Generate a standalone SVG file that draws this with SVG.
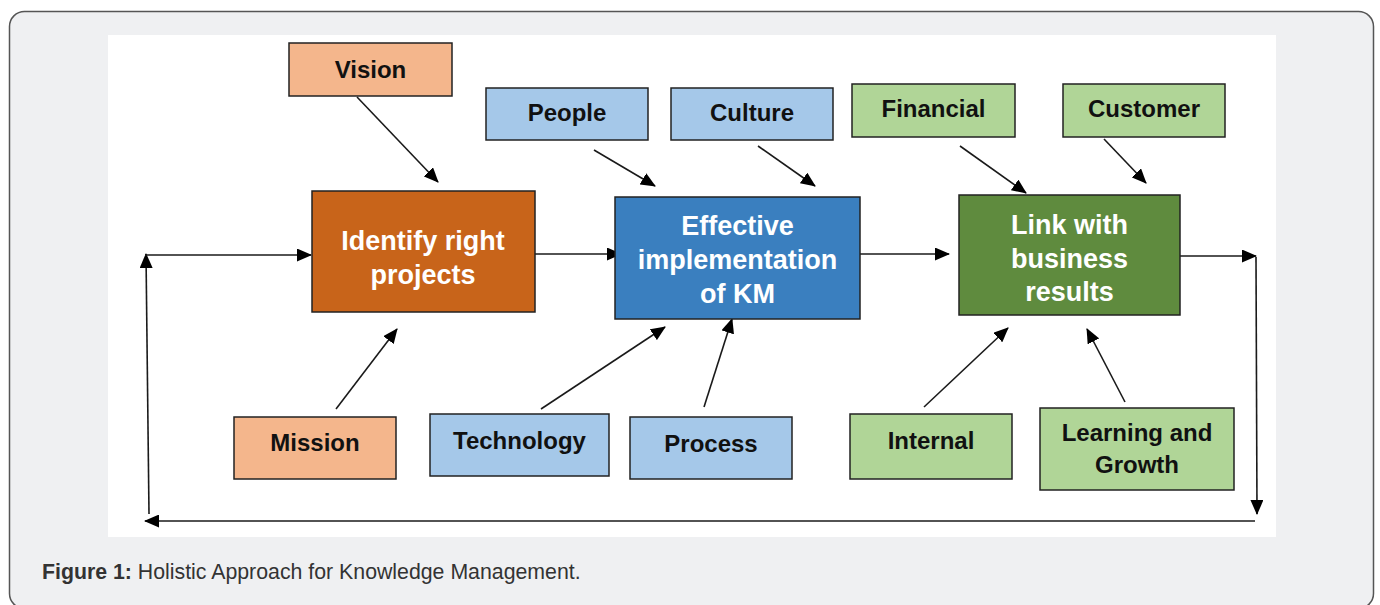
<svg xmlns="http://www.w3.org/2000/svg" width="1380" height="605" viewBox="0 0 1380 605">
  <style>
    .box { stroke: #222; stroke-width: 1.5; }
    .orange-l { fill: #f4b68c; }
    .orange-d { fill: #c8641a; }
    .blue-l { fill: #a5c8e9; }
    .blue-d { fill: #3a7fbf; }
    .green-l { fill: #b0d597; }
    .green-d { fill: #5f8b3e; }
    .lbl { font-family: "Liberation Sans", Arial, sans-serif; font-weight: bold; font-size: 24px; fill: #111; text-anchor: middle; }
    .main { font-family: "Liberation Sans", Arial, sans-serif; font-weight: bold; font-size: 27px; fill: #fff; text-anchor: middle; }
    .conn line { stroke: #1a1a1a; stroke-width: 1.6; fill: none; }
    .cap { font-family: "Liberation Sans", Arial, sans-serif; font-size: 21.3px; fill: #333; }
  </style>
  <defs>
    <marker id="head" markerUnits="userSpaceOnUse" markerWidth="15" markerHeight="13" refX="14" refY="6.5" orient="auto">
      <path d="M0,0 L15,6.5 L0,13 Z" fill="#000"/>
    </marker>
  </defs>

  <!-- figure card -->
  <rect x="9.5" y="11.5" width="1364" height="597" rx="15" ry="15" fill="#eff0f2" stroke="#555" stroke-width="1.5"/>
  <rect x="108" y="35" width="1168" height="502" fill="#fff"/>

  <!-- connectors -->
  <g id="connectors" class="conn">
    <line x1="357" y1="97" x2="438" y2="182" marker-end="url(#head)"/>
    <line x1="594" y1="150" x2="655" y2="186" marker-end="url(#head)"/>
    <line x1="758" y1="146" x2="815" y2="186" marker-end="url(#head)"/>
    <line x1="960" y1="146" x2="1026" y2="193" marker-end="url(#head)"/>
    <line x1="1104" y1="139" x2="1146" y2="183" marker-end="url(#head)"/>
    <line x1="336" y1="409" x2="397" y2="329" marker-end="url(#head)"/>
    <line x1="541" y1="409" x2="665" y2="327" marker-end="url(#head)"/>
    <line x1="704" y1="407" x2="732" y2="319" marker-end="url(#head)"/>
    <line x1="924" y1="407" x2="1008" y2="328" marker-end="url(#head)"/>
    <line x1="1125" y1="402" x2="1087" y2="329" marker-end="url(#head)"/>
    <line x1="535" y1="254" x2="621" y2="254" marker-end="url(#head)"/>
    <line x1="860" y1="254" x2="949" y2="254" marker-end="url(#head)"/>
    <line x1="1180" y1="256" x2="1256" y2="256" marker-end="url(#head)"/>
    <line x1="1256" y1="257" x2="1257" y2="514" marker-end="url(#head)"/>
    <line x1="1255" y1="521" x2="145" y2="521" marker-end="url(#head)"/>
    <line x1="149" y1="514" x2="146" y2="254" marker-end="url(#head)"/>
    <line x1="145" y1="255" x2="311" y2="255" marker-end="url(#head)"/>
  </g>

  <g id="vision">
    <rect class="box orange-l" x="289" y="43" width="163" height="53"/>
    <text class="lbl" x="370.5" y="78">Vision</text>
  </g>
  <g id="identify">
    <rect class="box orange-d" x="312" y="191" width="223" height="121"/>
    <text class="main" x="423" y="250">Identify right</text>
    <text class="main" x="423" y="284">projects</text>
  </g>
  <g id="mission">
    <rect class="box orange-l" x="234" y="417" width="162" height="62"/>
    <text class="lbl" x="315" y="451">Mission</text>
  </g>

  <g id="people">
    <rect class="box blue-l" x="486" y="88" width="162" height="52"/>
    <text class="lbl" x="567" y="121">People</text>
  </g>
  <g id="culture">
    <rect class="box blue-l" x="671" y="88" width="162" height="52"/>
    <text class="lbl" x="752" y="121">Culture</text>
  </g>
  <g id="effective">
    <rect class="box blue-d" x="615" y="197" width="245" height="122"/>
    <text class="main" x="737.5" y="235">Effective</text>
    <text class="main" x="737.5" y="269">implementation</text>
    <text class="main" x="737.5" y="303">of KM</text>
  </g>
  <g id="technology">
    <rect class="box blue-l" x="430" y="414" width="179" height="62"/>
    <text class="lbl" x="519.5" y="449">Technology</text>
  </g>
  <g id="process">
    <rect class="box blue-l" x="630" y="417" width="162" height="62"/>
    <text class="lbl" x="711" y="452">Process</text>
  </g>

  <g id="financial">
    <rect class="box green-l" x="852" y="84" width="163" height="53"/>
    <text class="lbl" x="933.5" y="117">Financial</text>
  </g>
  <g id="customer">
    <rect class="box green-l" x="1063" y="84" width="162" height="53"/>
    <text class="lbl" x="1144" y="117">Customer</text>
  </g>
  <g id="link">
    <rect class="box green-d" x="959" y="195" width="221" height="120"/>
    <text class="main" x="1069.5" y="234">Link with</text>
    <text class="main" x="1069.5" y="268">business</text>
    <text class="main" x="1069.5" y="301">results</text>
  </g>
  <g id="internal">
    <rect class="box green-l" x="850" y="414" width="162" height="65"/>
    <text class="lbl" x="931" y="449">Internal</text>
  </g>
  <g id="learning">
    <rect class="box green-l" x="1040" y="408" width="194" height="82"/>
    <text class="lbl" x="1137" y="441">Learning and</text>
    <text class="lbl" x="1137" y="473">Growth</text>
  </g>

  <text class="cap" x="42" y="579"><tspan font-weight="bold">Figure 1:</tspan> Holistic Approach for Knowledge Management.</text>
</svg>
